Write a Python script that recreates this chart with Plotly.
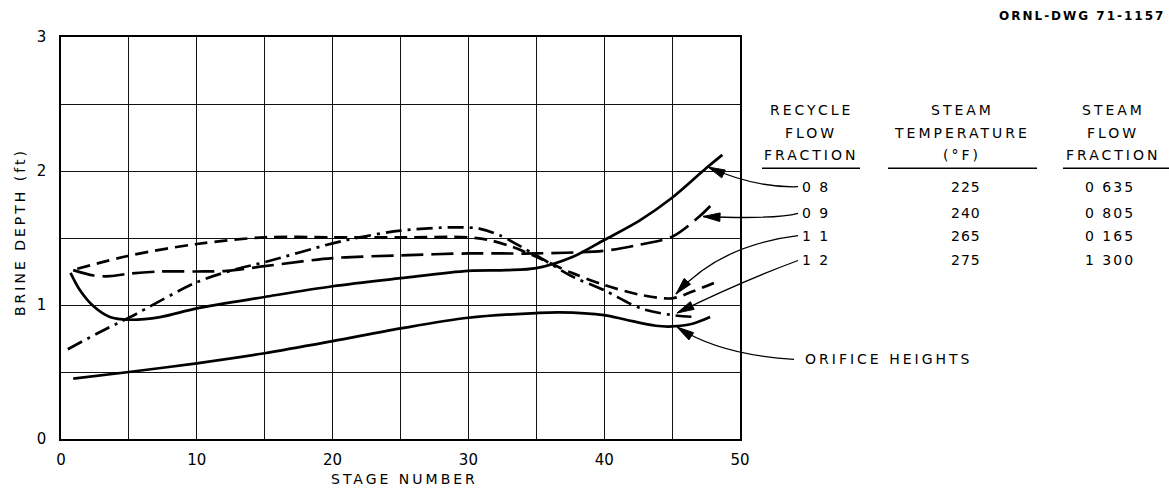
import math
import plotly.graph_objects as go

# ---------------- data ----------------
# Recycle flow fraction 0.8 (solid)
stage_08 = [0.7, 1.4, 2.4, 3.6, 5.0, 7.3, 10, 15, 20, 25, 30, 32.8, 35, 37.7, 40, 42.6, 45, 47.5, 48.7]
depth_08 = [1.24, 1.11, 0.99, 0.91, 0.89, 0.91, 0.975, 1.06, 1.14, 1.20, 1.255, 1.26, 1.275, 1.36, 1.485, 1.63, 1.80, 2.02, 2.12]

# Recycle flow fraction 0.9 (long dashes)
stage_09 = [0.9, 2.4, 3.6, 5.1, 7.3, 10, 12.2, 15, 20, 25, 30, 35, 40, 42.6, 45, 47, 48.2]
depth_09 = [1.26, 1.22, 1.215, 1.235, 1.25, 1.25, 1.255, 1.29, 1.35, 1.37, 1.385, 1.385, 1.405, 1.45, 1.51, 1.66, 1.78]

# Recycle flow fraction 1.1 (short dashes)
stage_11 = [1.2, 5.1, 10, 15, 20, 25, 30, 31.5, 33.2, 35, 37.6, 40, 42.7, 45, 46.5, 48.2]
depth_11 = [1.27, 1.37, 1.455, 1.505, 1.505, 1.505, 1.505, 1.485, 1.435, 1.36, 1.24, 1.15, 1.075, 1.05, 1.10, 1.17]

# Recycle flow fraction 1.2 (dash-dot)
stage_12 = [0.5, 3.1, 5.1, 10, 13, 15, 20, 22, 25, 29, 30.8, 32.3, 35, 37.7, 40, 42.7, 45, 46.8]
depth_12 = [0.67, 0.81, 0.91, 1.17, 1.27, 1.32, 1.46, 1.505, 1.555, 1.58, 1.57, 1.52, 1.37, 1.21, 1.11, 0.975, 0.925, 0.91]

# Orifice heights (solid)
stage_orf = [0.9, 5, 10, 15, 20, 25, 30, 35, 36.7, 40, 41.6, 43.8, 45, 46.5, 47.8]
depth_orf = [0.45, 0.50, 0.565, 0.64, 0.73, 0.825, 0.905, 0.94, 0.945, 0.925, 0.89, 0.845, 0.84, 0.86, 0.91]

# table
recycle_fraction = ["0 8", "0 9", "1 1", "1 2"]
steam_temperature = ["225", "240", "265", "275"]
steam_flow_fraction = ["0 635", "0 805", "0 165", "1 300"]

x_tickvals = [0, 5, 10, 15, 20, 25, 30, 35, 40, 45, 50]
x_ticktext = ["0", "", "10", "", "20", "", "30", "", "40", "", "50"]
y_tickvals = [0, 0.5, 1, 1.5, 2, 2.5, 3]
y_ticktext = ["0", "", "1", "", "2", "", "3"]

# ---------------- layout helpers (pixel -> paper) ----------------
W, H = 1169, 491
PL, PR, PT, PB = 61, 740, 37, 439


def px(x):
    return (x - PL) / (PR - PL)


def py(y):
    return (PB - y) / (PB - PT)


def sp(s, n=3):
    return f"<span style='letter-spacing:{n}px'>{s}</span>"


FONT = "DejaVu Sans"

fig = go.Figure()

series = [
    (stage_08, depth_08, "solid"),
    (stage_09, depth_09, "22px,8px"),
    (stage_11, depth_11, "13px,7px"),
    (stage_12, depth_12, "16px,6px,3px,6px"),
    (stage_orf, depth_orf, "solid"),
]
for xs, ys, dash in series:
    fig.add_trace(go.Scatter(
        x=xs, y=ys, mode="lines",
        line=dict(color="black", width=2.7, dash=dash, shape="spline", smoothing=0.9),
        hoverinfo="skip", showlegend=False,
    ))

annotations = []


def text(s, cx, cy, size=14, anchor="center", spacing=3, bold=False):
    t = sp(s, spacing)
    if bold:
        t = "<b>" + t + "</b>"
    annotations.append(dict(
        text=t, x=px(cx), y=py(cy), xref="paper", yref="paper",
        xanchor=anchor, yanchor="middle", showarrow=False,
        font=dict(family=FONT, size=size, color="black"),
    ))


# headers
col1, col2, col3 = 811, 962, 1113
text("RECYCLE", col1, 110)
text("FLOW", col1, 133)
text("FRACTION", col1, 155)
text("STEAM", col2, 110)
text("TEMPERATURE", col2, 133)
text("(°F)", col2, 155)
text("STEAM", col3, 110)
text("FLOW", col3, 133)
text("FRACTION", col3, 155)

rows_y = [186.7, 213.3, 235.7, 260]
for i, yy in enumerate(rows_y):
    text(recycle_fraction[i], 800, yy, anchor="left", spacing=2)
    text(steam_temperature[i], 966, yy, spacing=1)
    text(steam_flow_fraction[i], 1110, yy, spacing=2)

text("ORIFICE HEIGHTS", 803, 359, anchor="left", spacing=3)
text("ORNL-DWG 71-1157", 1167, 16, size=12, anchor="right", spacing=2, bold=True)
text("STAGE NUMBER", 404, 479)

annotations.append(dict(
    text=sp("BRINE DEPTH (ft)", 3), x=px(20), y=py(232), xref="paper", yref="paper",
    xanchor="center", yanchor="middle", showarrow=False, textangle=-90,
    font=dict(family=FONT, size=14, color="black"),
))

shapes = []
# underlines
for x0, x1 in [(762, 860), (888, 1037), (1063, 1169)]:
    shapes.append(dict(type="line", xref="paper", yref="paper",
                       x0=px(x0), x1=px(x1), y0=py(168.3), y1=py(168.3),
                       line=dict(color="black", width=1.4)))


def qpath(p0, c, p1):
    return (f"M {px(p0[0])},{py(p0[1])} Q {px(c[0])},{py(c[1])} {px(p1[0])},{py(p1[1])}")


def head(tip, frm, Lh=17, w=4.3):
    dx, dy = tip[0] - frm[0], tip[1] - frm[1]
    n = math.hypot(dx, dy)
    ux, uy = dx / n, dy / n
    bx, by = tip[0] - ux * Lh, tip[1] - uy * Lh
    nx, ny = -uy, ux
    b1 = (bx + nx * w, by + ny * w)
    b2 = (bx - nx * w, by - ny * w)
    return (f"M {px(tip[0])},{py(tip[1])} L {px(b1[0])},{py(b1[1])} "
            f"L {px(b2[0])},{py(b2[1])} Z")


leaders = [
    ((798, 186.7), (755, 188), (708, 167)),
    ((798, 213.3), (775, 219.5), (703, 216.5)),
    ((798, 235.7), (720, 245), (676, 294)),
    ((798, 260.5), (740, 282), (677, 313)),
    ((794, 359.3), (720, 355), (677, 327)),
]
for p0, c, p1 in leaders:
    shapes.append(dict(type="path", xref="paper", yref="paper", path=qpath(p0, c, p1),
                       line=dict(color="black", width=1.3)))
    shapes.append(dict(type="path", xref="paper", yref="paper", path=head(p1, c),
                       fillcolor="black", line=dict(color="black", width=1)))

axis_common = dict(
    showgrid=True, gridcolor="#111111", gridwidth=1.2,
    showline=True, mirror=True, linecolor="black", linewidth=1.6,
    ticks="", zeroline=False,
    tickfont=dict(family=FONT, size=15, color="black"),
)

fig.update_layout(
    width=W, height=H,
    margin=dict(l=PL, r=W - PR, t=PT, b=H - PB, pad=0),
    paper_bgcolor="white", plot_bgcolor="white",
    font=dict(family=FONT, size=14, color="black"),
    xaxis=dict(range=[0, 50], tickvals=x_tickvals, ticktext=x_ticktext,
               ticklabelstandoff=6, **axis_common),
    yaxis=dict(range=[0, 3], tickvals=y_tickvals, ticktext=y_ticktext,
               ticklabelstandoff=10, **axis_common),
    annotations=annotations,
    shapes=shapes,
)

fig.write_html("out.html")
